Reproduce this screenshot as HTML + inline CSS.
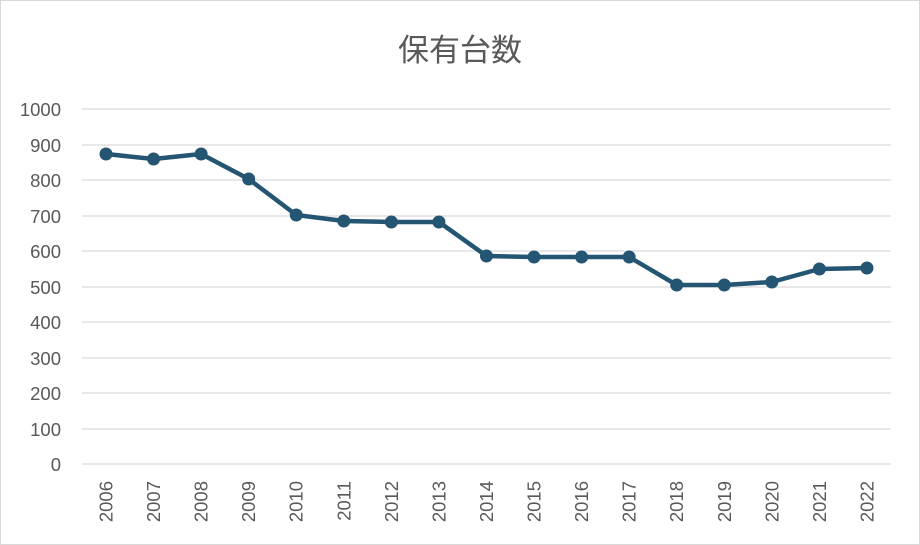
<!DOCTYPE html>
<html><head><meta charset="utf-8"><style>
html,body{margin:0;padding:0;background:#fff;}
svg{display:block;}
</style></head><body>
<svg width="920" height="545" xmlns="http://www.w3.org/2000/svg" font-family="Liberation Sans, sans-serif">
<rect x="0.5" y="0.5" width="919" height="544" fill="#fff" stroke="#d9d9d9"/>
<text x="460" y="61" text-anchor="middle" font-size="31" fill="#595959" font-family="Liberation Sans, Noto Sans CJK JP, sans-serif">保有台数</text>
<g stroke="#d9d9d9" stroke-width="1.3">
<line x1="82" x2="891" y1="109" y2="109"/><line x1="82" x2="891" y1="145" y2="145"/>
<line x1="82" x2="891" y1="180" y2="180"/><line x1="82" x2="891" y1="216" y2="216"/>
<line x1="82" x2="891" y1="251" y2="251"/><line x1="82" x2="891" y1="287" y2="287"/>
<line x1="82" x2="891" y1="322" y2="322"/><line x1="82" x2="891" y1="358" y2="358"/>
<line x1="82" x2="891" y1="393" y2="393"/><line x1="82" x2="891" y1="429" y2="429"/>
<line x1="82" x2="891" y1="464" y2="464"/>
</g>
<g font-size="18.5" fill="#595959" text-anchor="end">
<text x="61" y="116">1000</text><text x="61" y="152">900</text><text x="61" y="187">800</text>
<text x="61" y="223">700</text><text x="61" y="258">600</text><text x="61" y="294">500</text>
<text x="61" y="329">400</text><text x="61" y="365">300</text><text x="61" y="400">200</text>
<text x="61" y="436">100</text><text x="61" y="471">0</text>
</g>
<g font-size="18.5" fill="#595959" text-anchor="end">
<text transform="translate(112.5,481) rotate(-90)">2006</text>
<text transform="translate(160.06,481) rotate(-90)">2007</text>
<text transform="translate(207.62,481) rotate(-90)">2008</text>
<text transform="translate(255.18,481) rotate(-90)">2009</text>
<text transform="translate(302.74,481) rotate(-90)">2010</text>
<text transform="translate(350.3,481) rotate(-90)">2011</text>
<text transform="translate(397.86,481) rotate(-90)">2012</text>
<text transform="translate(445.42,481) rotate(-90)">2013</text>
<text transform="translate(492.98,481) rotate(-90)">2014</text>
<text transform="translate(540.54,481) rotate(-90)">2015</text>
<text transform="translate(588.1,481) rotate(-90)">2016</text>
<text transform="translate(635.66,481) rotate(-90)">2017</text>
<text transform="translate(683.22,481) rotate(-90)">2018</text>
<text transform="translate(730.78,481) rotate(-90)">2019</text>
<text transform="translate(778.34,481) rotate(-90)">2020</text>
<text transform="translate(825.9,481) rotate(-90)">2021</text>
<text transform="translate(873.46,481) rotate(-90)">2022</text>
</g>
<polyline fill="none" stroke="#245673" stroke-width="4.5" stroke-linejoin="round" points="106,154 153.56,159 201.12,154 248.68,179 296.24,215 343.8,221 391.36,222 438.92,222 486.48,256 534.04,257 581.6,257 629.16,257 676.72,285 724.28,285 771.84,282 819.4,269 866.96,268"/>
<g fill="#245673">
<circle cx="106" cy="154" r="6.5"/><circle cx="153.56" cy="159" r="6.5"/><circle cx="201.12" cy="154" r="6.5"/>
<circle cx="248.68" cy="179" r="6.5"/><circle cx="296.24" cy="215" r="6.5"/><circle cx="343.8" cy="221" r="6.5"/>
<circle cx="391.36" cy="222" r="6.5"/><circle cx="438.92" cy="222" r="6.5"/><circle cx="486.48" cy="256" r="6.5"/>
<circle cx="534.04" cy="257" r="6.5"/><circle cx="581.6" cy="257" r="6.5"/><circle cx="629.16" cy="257" r="6.5"/>
<circle cx="676.72" cy="285" r="6.5"/><circle cx="724.28" cy="285" r="6.5"/><circle cx="771.84" cy="282" r="6.5"/>
<circle cx="819.4" cy="269" r="6.5"/><circle cx="866.96" cy="268" r="6.5"/>
</g>
</svg>
</body></html>
